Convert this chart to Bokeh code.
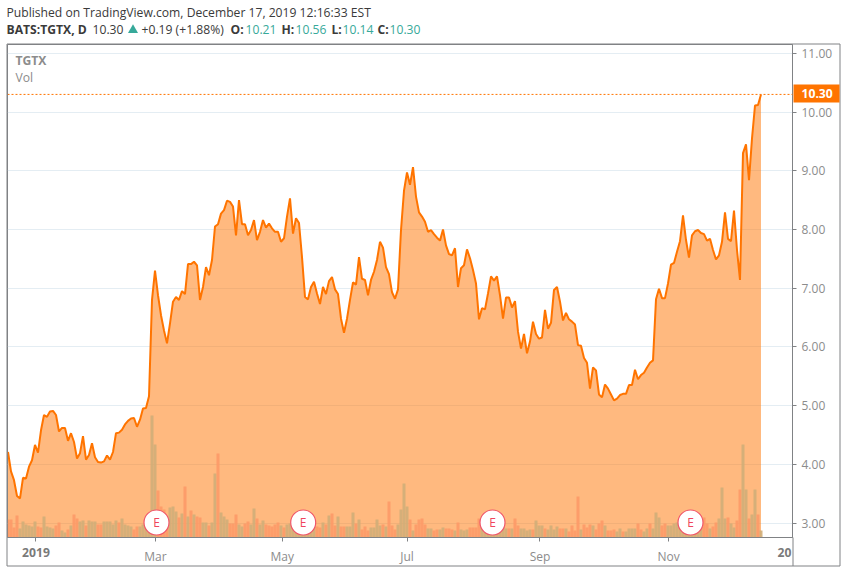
from bokeh.plotting import figure
from bokeh.layouts import column
from bokeh.models import (Range1d, FixedTicker, NumeralTickFormatter, Span, Label, ColumnDataSource)
from bokeh.core.properties import value
from bokeh.embed import file_html
from bokeh.resources import INLINE

price = [
 4.21,3.88,3.73,3.46,3.42,3.77,3.76,3.96,4.07,4.33,
 4.20,4.58,4.84,4.81,4.90,4.91,4.84,4.56,4.62,4.62,
 4.40,4.53,4.38,4.10,4.19,4.48,4.08,4.16,4.36,4.12,
 4.04,4.03,4.05,4.15,4.08,4.21,4.53,4.54,4.59,4.68,
 4.74,4.78,4.79,4.64,4.76,4.95,4.96,5.16,6.80,7.30,
 6.88,6.54,6.28,6.06,6.40,6.77,6.85,6.80,6.95,6.90,
 7.41,7.41,7.45,7.39,6.80,7.02,7.36,7.22,7.48,8.05,
 8.09,8.27,8.33,8.49,8.47,8.39,7.90,8.50,8.09,8.09,
 7.90,7.99,8.16,7.82,7.96,8.16,8.03,8.10,8.02,7.96,
 7.96,7.79,7.85,8.22,8.53,7.93,8.19,8.11,7.53,6.85,
 6.81,7.02,7.11,6.91,6.73,7.02,6.90,7.12,7.19,6.98,
 6.90,6.48,6.24,6.48,6.80,7.10,7.06,7.53,7.16,7.14,
 6.88,7.14,7.28,7.48,7.79,7.69,7.36,7.24,6.93,6.82,
 6.98,7.99,8.66,8.97,8.76,9.06,8.56,8.29,8.22,8.13,
 7.96,7.99,7.92,7.86,7.81,8.00,7.73,7.58,7.56,7.68,
 7.02,7.34,7.39,7.66,7.51,7.31,7.08,6.47,6.66,6.64,
 6.91,7.20,7.13,7.20,6.88,6.48,6.84,6.84,6.67,6.78,
 6.26,5.97,6.22,5.89,6.09,6.43,6.22,6.14,6.16,6.63,
 6.31,6.41,6.97,7.02,6.77,6.45,6.58,6.47,6.43,6.38,
 6.03,6.02,5.81,5.73,5.29,5.65,5.60,5.19,5.14,5.36,
 5.29,5.19,5.09,5.12,5.18,5.20,5.20,5.35,5.35,5.61,
 5.45,5.52,5.56,5.65,5.73,5.77,6.81,6.99,6.83,6.83,
 7.08,7.40,7.43,7.62,7.80,8.24,7.82,7.52,7.90,7.97,
 7.99,7.94,7.92,7.81,7.84,7.65,7.49,7.56,7.79,8.29,
 7.84,7.80,8.32,7.65,7.14,9.30,9.45,8.84,9.55,10.11,
 10.12,10.30,
]
volume = [
 18,18,10,22,9,16,13,12,11,16,
 11,10,21,11,10,9,12,15,7,5,
 8,12,23,19,16,17,12,17,16,16,
 13,13,16,16,16,13,17,15,19,13,
 12,11,8,11,11,13,15,15,122,93,
 47,31,28,12,30,31,26,20,24,51,
 21,27,23,21,20,15,15,12,15,64,
 84,25,21,18,14,14,23,13,11,14,
 16,13,29,19,13,17,13,12,11,13,
 15,12,10,13,14,10,11,13,12,11,
 13,11,12,11,10,15,13,22,24,12,
 21,11,11,11,11,25,14,18,8,11,
 7,10,10,18,12,13,11,36,12,8,
 13,28,54,31,18,7,13,18,19,13,
 9,9,7,8,8,10,9,9,8,7,
 15,8,7,8,10,10,10,19,12,11,
 10,12,11,10,12,11,9,9,9,19,
 12,9,9,7,8,8,17,12,12,9,
 8,12,8,11,9,9,9,6,12,7,
 41,8,13,10,13,12,8,14,17,12,
 7,7,8,6,9,6,6,9,9,9,
 14,8,6,9,14,9,25,20,12,14,
 12,12,14,15,13,12,14,13,12,13,
 14,15,20,14,9,11,15,19,50,19,
 20,14,10,17,48,93,48,19,23,48,
 23,7,
]
direction = ("dddduuuuuu" "dduuuudduu" "dudduuduuu" "dduuuuuduu" "uudduuuuuu"
             "dddduuudud" "ududduuduu" "duuuddduud" "duuduuddd d" "duduuuuuuu"
             "uuuddududd" "uddu uuduDd" "duuuududdd" "uuuududddd" "uuddu uddd u"
             "duuudddduu" "uuuuuuudud" "duuuuduuud" "uuuuddu ddd" "duddduddd u"
             "ddduuduuuu" "dduuduuudd" "uuuuuuuuuu" "uuddu dduuu" "duuddu udu u" "du")
direction = direction.replace(" ", "").lower()
price_ticks = [3, 4, 5, 6, 7, 8, 9, 10, 11]
month_pos = [9.33, 49.17, 91.4, 133.0, 177.33, 220.17]
month_labels = ["", "Mar", "May", "Jul", "Sep", "Nov"]
earnings_pos = [49.5, 98.4, 161.5, 227.5]
last_price = 10.30

if not (len(price) == len(volume) == len(direction)):
    raise SystemExit(f"{len(price)} {len(volume)} {len(direction)}")

W, H = 846, 572
ORANGE = "#ff7400"
AXIS = "#808285"
TXT = "#8c8c8c"
UP = "#d1ae78"
DOWN = "#fd9a68"
y0 = 2.754

idx = list(range(len(price)))
p = figure(width=W, height=H, output_backend="svg", toolbar_location=None,
           x_range=Range1d(-0.1667, 261.5), y_range=Range1d(y0, 11.15),
           y_axis_location="right", min_border_left=7, min_border_right=54,
           min_border_top=44, min_border_bottom=35, margin=(0, 0, 0, 0),
           outline_line_color=AXIS, outline_line_width=1)
p.background_fill_color = "white"
p.extra_y_ranges = {"vol": Range1d(0, 493)}

p.xgrid.visible = False
p.ygrid.ticker = FixedTicker(ticks=price_ticks)
p.ygrid.grid_line_color = "#e4edf3"
p.ygrid.grid_line_width = 1

ya = p.yaxis[0]
ya.ticker = FixedTicker(ticks=price_ticks)
ya.formatter = NumeralTickFormatter(format="0.00")
ya.axis_line_color = AXIS
ya.major_tick_line_color = AXIS
ya.major_tick_in = 0
ya.major_tick_out = 4
ya.minor_tick_line_color = None
ya.major_label_standoff = 5
ya.major_label_text_color = TXT
ya.major_label_text_font = "Open Sans"
ya.major_label_text_font_size = "12px"

xa = p.xaxis[0]
xa.ticker = FixedTicker(ticks=month_pos)
xa.major_label_overrides = dict(zip(month_pos, month_labels))
xa.axis_line_color = AXIS
xa.major_tick_line_color = AXIS
xa.major_tick_in = 0
xa.major_tick_out = 4
xa.minor_tick_line_color = None
xa.major_label_standoff = 6
xa.major_label_text_color = TXT
xa.major_label_text_font = "Open Sans"
xa.major_label_text_font_size = "12px"

p.varea(x=idx, y1=[y0] * len(idx), y2=price, fill_color=ORANGE, fill_alpha=0.5)

vsrc = ColumnDataSource(dict(x=idx, v=volume, c=[UP if d == "u" else DOWN for d in direction]))
p.vbar(x="x", top="v", bottom=0, width=1, source=vsrc, fill_color="c", line_color=None,
       fill_alpha=0.92, y_range_name="vol")

p.line(idx, price, line_color=ORANGE, line_width=2)
p.add_layout(Span(location=last_price, dimension="width", line_color=ORANGE, line_width=1, line_dash="2 2"))

p.scatter(earnings_pos, [15] * 4, size=25, marker="circle", fill_color="white", line_color="#f0566a",
          line_width=1.2, y_range_name="vol")
p.text(earnings_pos, [15] * 4, text=["E"] * 4, text_color="#f0455c", text_align="center",
       text_baseline="middle", text_font=value("Open Sans"), text_font_size="12px", y_range_name="vol")

# transparent sheet over the whole page for what lies outside the plot area
sheet = figure(width=W, height=H, output_backend="svg", toolbar_location=None,
               x_range=Range1d(0, W), y_range=Range1d(H, 0),
               x_axis_location=None, y_axis_location=None, min_border=0,
               margin=(-H, 0, 0, 0), outline_line_color=None,
               background_fill_alpha=0, border_fill_alpha=0)
sheet.xgrid.visible = False
sheet.ygrid.visible = False
for fig in (p, sheet):
    if "frame_align" in fig.properties():
        fig.frame_align = False


def label(x, y, text, color="#4a4a4a", bold=False, size="12.15px", align="left"):
    sheet.add_layout(Label(x=x, y=y, x_units="canvas", y_units="canvas", text=text, text_color=color,
                           text_font="Open Sans", text_font_size=size,
                           text_font_style="bold" if bold else "normal",
                           text_baseline="middle", text_align=align))


TEAL = "#37a99a"
DARK = "#3a3a3a"
label(6, 12, "Published on TradingView.com, December 17, 2019 12:16:33 EST", DARK)
label(6, 29, "BATS:TGTX, D", DARK, True)
label(92, 29, "10.30", DARK)
sheet.scatter([132.5], [29.5], marker="triangle", size=10, fill_color=TEAL, line_color=None)
label(141, 29, "+0.19 (+1.88%)", DARK)
label(230, 29, "O:", DARK, True)
label(245, 29, "10.21", TEAL)
label(281, 29, "H:", DARK, True)
label(295, 29, "10.56", TEAL)
label(331, 29, "L:", DARK, True)
label(342, 29, "10.14", TEAL)
label(377, 29, "C:", DARK, True)
label(389, 29, "10.30", TEAL)
label(15, 60, "TGTX", TXT, True)
label(15, 77, "Vol", TXT)
label(35.5, 552, "2019", "#7a7a7a", True, align="center")
label(784, 552, "20", "#7a7a7a", True, align="center")

# outer frame of the price and time scales
sheet.multi_line([[6.5, 839.5, 839.5, 6.5, 6.5], [792.5, 792.5]], [[43.5, 43.5, 565.5, 565.5, 43.5], [537, 565.5]],
                 line_color=AXIS, line_width=1)
# last price tag
sheet.quad(left=[793], right=[839], top=[84], bottom=[102], fill_color=ORANGE, line_color=None)
label(801, 93, "10.30", "white", True)

open("out.html", "w").write(file_html(column(p, sheet, margin=(0, 0, 0, 0)), INLINE))
